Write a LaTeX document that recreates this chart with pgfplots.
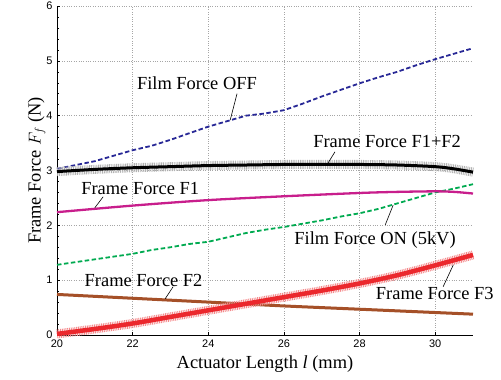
\documentclass[border=0pt]{standalone}
\usepackage{fontspec}
\setmainfont{Liberation Serif}
\newfontfamily\tickfont{Liberation Sans}
\usepackage{pgfplots}
\pgfplotsset{compat=1.18}
\definecolor{offblue}{RGB}{40,40,150}
\definecolor{ongreen}{RGB}{0,170,80}
\definecolor{fmag}{RGB}{200,30,140}
\definecolor{fbrown}{RGB}{165,80,40}
\definecolor{fred}{RGB}{235,40,45}
\begin{document}
\begin{tikzpicture}[x=1bp,y=1bp]
\begin{axis}[
  at={(0,0)}, anchor=south west,
  scale only axis, width=416bp, height=329bp,
  xmin=20, xmax=31, ymin=0, ymax=6,
  xtick={20,22,...,30}, ytick={0,1,...,6},
  minor y tick num=4,
  axis x line*=bottom, axis y line*=left,
  axis line style={black, line width=0.6bp},
  tick style={black, line width=0.5bp},
  major tick length=3bp, minor tick length=1.5bp,
  grid=major,
  major grid style={gray!70, dotted, line width=0.6bp},
  /pgf/number format/assume math mode=true,
  ticklabel style={font=\tickfont\fontsize{11}{12}\selectfont},
  xticklabel style={yshift=-1.5bp},
  yticklabel style={xshift=-1bp},
  xlabel={Actuator Length \textit{l} (mm)},
  ylabel={Frame Force $F_f$ (N)},
  label style={font=\fontsize{18.5}{20}\selectfont},
  xlabel style={yshift=-1bp},
  ylabel style={yshift=-6bp},
  clip=false,
]
% Film Force OFF
\addplot[offblue, line width=1.8bp, dash pattern=on 4.5bp off 2.5bp] coordinates {
(20,3.03)(20.5,3.10)(21,3.17)(21.5,3.27)(22,3.37)(22.5,3.45)(23,3.56)(23.5,3.68)
(24,3.80)(24.5,3.90)(25,4.00)(25.5,4.04)(26,4.10)(26.5,4.22)(27,4.35)(27.5,4.47)
(28,4.59)(28.5,4.70)(29,4.80)(29.5,4.92)(30,5.03)(30.5,5.13)(31,5.23)};
% Film Force ON
\addplot[ongreen, line width=1.8bp, dash pattern=on 4.5bp off 2.5bp] coordinates {
(20,1.28)(20.5,1.33)(21,1.38)(21.5,1.43)(22,1.48)(22.5,1.55)(23,1.60)(23.5,1.66)
(24,1.70)(24.5,1.78)(25,1.86)(25.5,1.92)(26,1.97)(26.5,2.03)(27,2.09)(27.5,2.16)
(28,2.22)(28.5,2.30)(29,2.40)(29.5,2.50)(30,2.60)(30.5,2.67)(31,2.75)};
% Frame Force F1
\addplot[fmag, line width=2.3bp, smooth] coordinates {
(20,2.24)(22,2.36)(24,2.46)(26,2.53)(28,2.59)(29,2.61)(30,2.62)(30.5,2.61)(31,2.58)};
% Frame Force F2
\addplot[fbrown, line width=3bp, smooth] coordinates {
(20,0.74)(22,0.67)(24,0.60)(26,0.53)(28,0.47)(30,0.41)(31,0.38)};
% Frame Force F3
\addplot[fred!55, line width=9bp, dash pattern=on 0.9bp off 0.9bp, smooth] coordinates {
(20,0.02)(21,0.11)(22,0.21)(23,0.33)(24,0.45)(25,0.57)(26,0.69)(27,0.81)(28,0.94)(29,1.09)(30,1.27)(31,1.46)};
\addplot[fred, line width=4.5bp, smooth] coordinates {
(20,0.02)(21,0.11)(22,0.21)(23,0.33)(24,0.45)(25,0.57)(26,0.69)(27,0.81)(28,0.94)(29,1.09)(30,1.27)(31,1.46)};
% Frame Force F1+F2
\addplot[gray!60, line width=9bp, dash pattern=on 0.9bp off 0.9bp, smooth] coordinates {
(20,2.98)(21,3.02)(22,3.05)(23,3.07)(24,3.09)(25,3.10)(26,3.11)(27,3.11)(28,3.11)(29,3.10)(30,3.07)(30.5,3.03)(31,2.97)};
\addplot[black, line width=3bp, smooth] coordinates {
(20,2.98)(21,3.02)(22,3.05)(23,3.07)(24,3.09)(25,3.10)(26,3.11)(27,3.11)(28,3.11)(29,3.10)(30,3.07)(30.5,3.03)(31,2.97)};
% annotations
\tikzset{lab/.style={font=\fontsize{18.5}{20}\selectfont, inner sep=0pt}}
\node[lab] at (axis cs:23.7,4.6) {Film Force OFF};
\draw[line width=0.6bp] (axis cs:24.76,4.40) -- (axis cs:24.58,3.92);
\node[lab] at (axis cs:28.73,3.52) {Frame Force F1+F2};
\draw[line width=0.6bp] (axis cs:27.35,3.34) -- (axis cs:27.17,3.14);
\node[lab] at (axis cs:22.2,2.68) {Frame Force F1};
\draw[line width=0.6bp] (axis cs:21.22,2.52) -- (axis cs:21.0,2.32);
\node[lab] at (axis cs:28.41,1.73) {Film Force ON (5kV)};
\draw[line width=0.6bp] (axis cs:28.68,2.01) -- (axis cs:28.89,2.37);
\node[lab] at (axis cs:22.29,1.0) {Frame Force F2};
\draw[line width=0.6bp] (axis cs:23.07,0.88) -- (axis cs:22.86,0.66);
\node[lab] at (axis cs:29.99,0.75) {Frame Force F3};
\draw[line width=0.6bp] (axis cs:30.21,0.88) -- (axis cs:30.48,1.28);
\end{axis}
\pgfresetboundingbox
\path (-57bp,-45bp) rectangle (444bp,335bp);
\end{tikzpicture}
\end{document}
